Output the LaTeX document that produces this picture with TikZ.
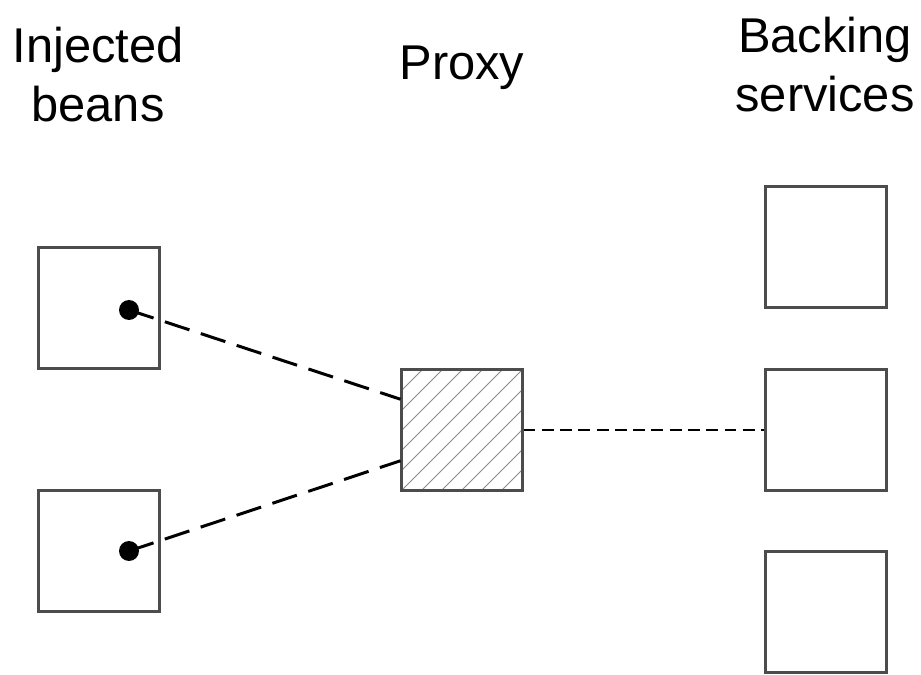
\documentclass[tikz,border=0pt]{standalone}
\usepackage{fontspec}
\setmainfont{Liberation Sans}
\usetikzlibrary{calc}
\tikzset{
  bean/.style={draw=black!70, line width=1.2pt, minimum size=2.42cm, inner sep=0pt},
  hatch/.style={draw=black!45, line width=0.5pt},
  wire/.style={line width=1.7pt, dash pattern=on 14.7pt off 6.8pt},
  link/.style={line width=1.1pt, dash pattern=on 6.8pt off 3.6pt},
  title/.style={font=\fontsize{27.8}{34}\selectfont, align=center, anchor=base}
}
\begin{document}
\begin{tikzpicture}[x=0.02cm, y=-0.02cm]
   \useasboundingbox (0,0) rectangle (921,675);
   % labels
   \node[title] (injected) at (98,122) {Injected\\beans};
   \node[title] (proxytitle) at (462,80) {Proxy};
   \node[title] (backing) at (825,112) {Backing\\services};
   % boxes
   \node[bean] (bean1) at (99,308) {};
   \node[bean] (bean2) at (99,551) {};
   \node[bean] (proxy) at (462,430) {};
   \node[bean] (svc1) at (826,247) {};
   \node[bean] (svc2) at (826,430) {};
   \node[bean] (svc3) at (826,612) {};
   % hatching of the proxy
   \begin{scope}
     \clip (proxy.south west) rectangle (proxy.north east);
     \foreach \k in {-6,...,6}
       \draw[hatch] ($(proxy.south west)+(\k*20,0)$) -- ++(121,-121);
   \end{scope}
   \node[bean] at (proxy) {};
   % injection points
   \fill (129,310) circle (0.2cm) coordinate (dot1);
   \fill (129,551) circle (0.2cm) coordinate (dot2);
   \draw[wire] (dot1) -- ($(proxy.north west)!0.25!(proxy.south west)$);
   \draw[wire] (dot2) -- ($(proxy.north west)!0.75!(proxy.south west)$);
   \draw[link] (proxy.east) -- (svc2.west);
\end{tikzpicture}
\end{document}
